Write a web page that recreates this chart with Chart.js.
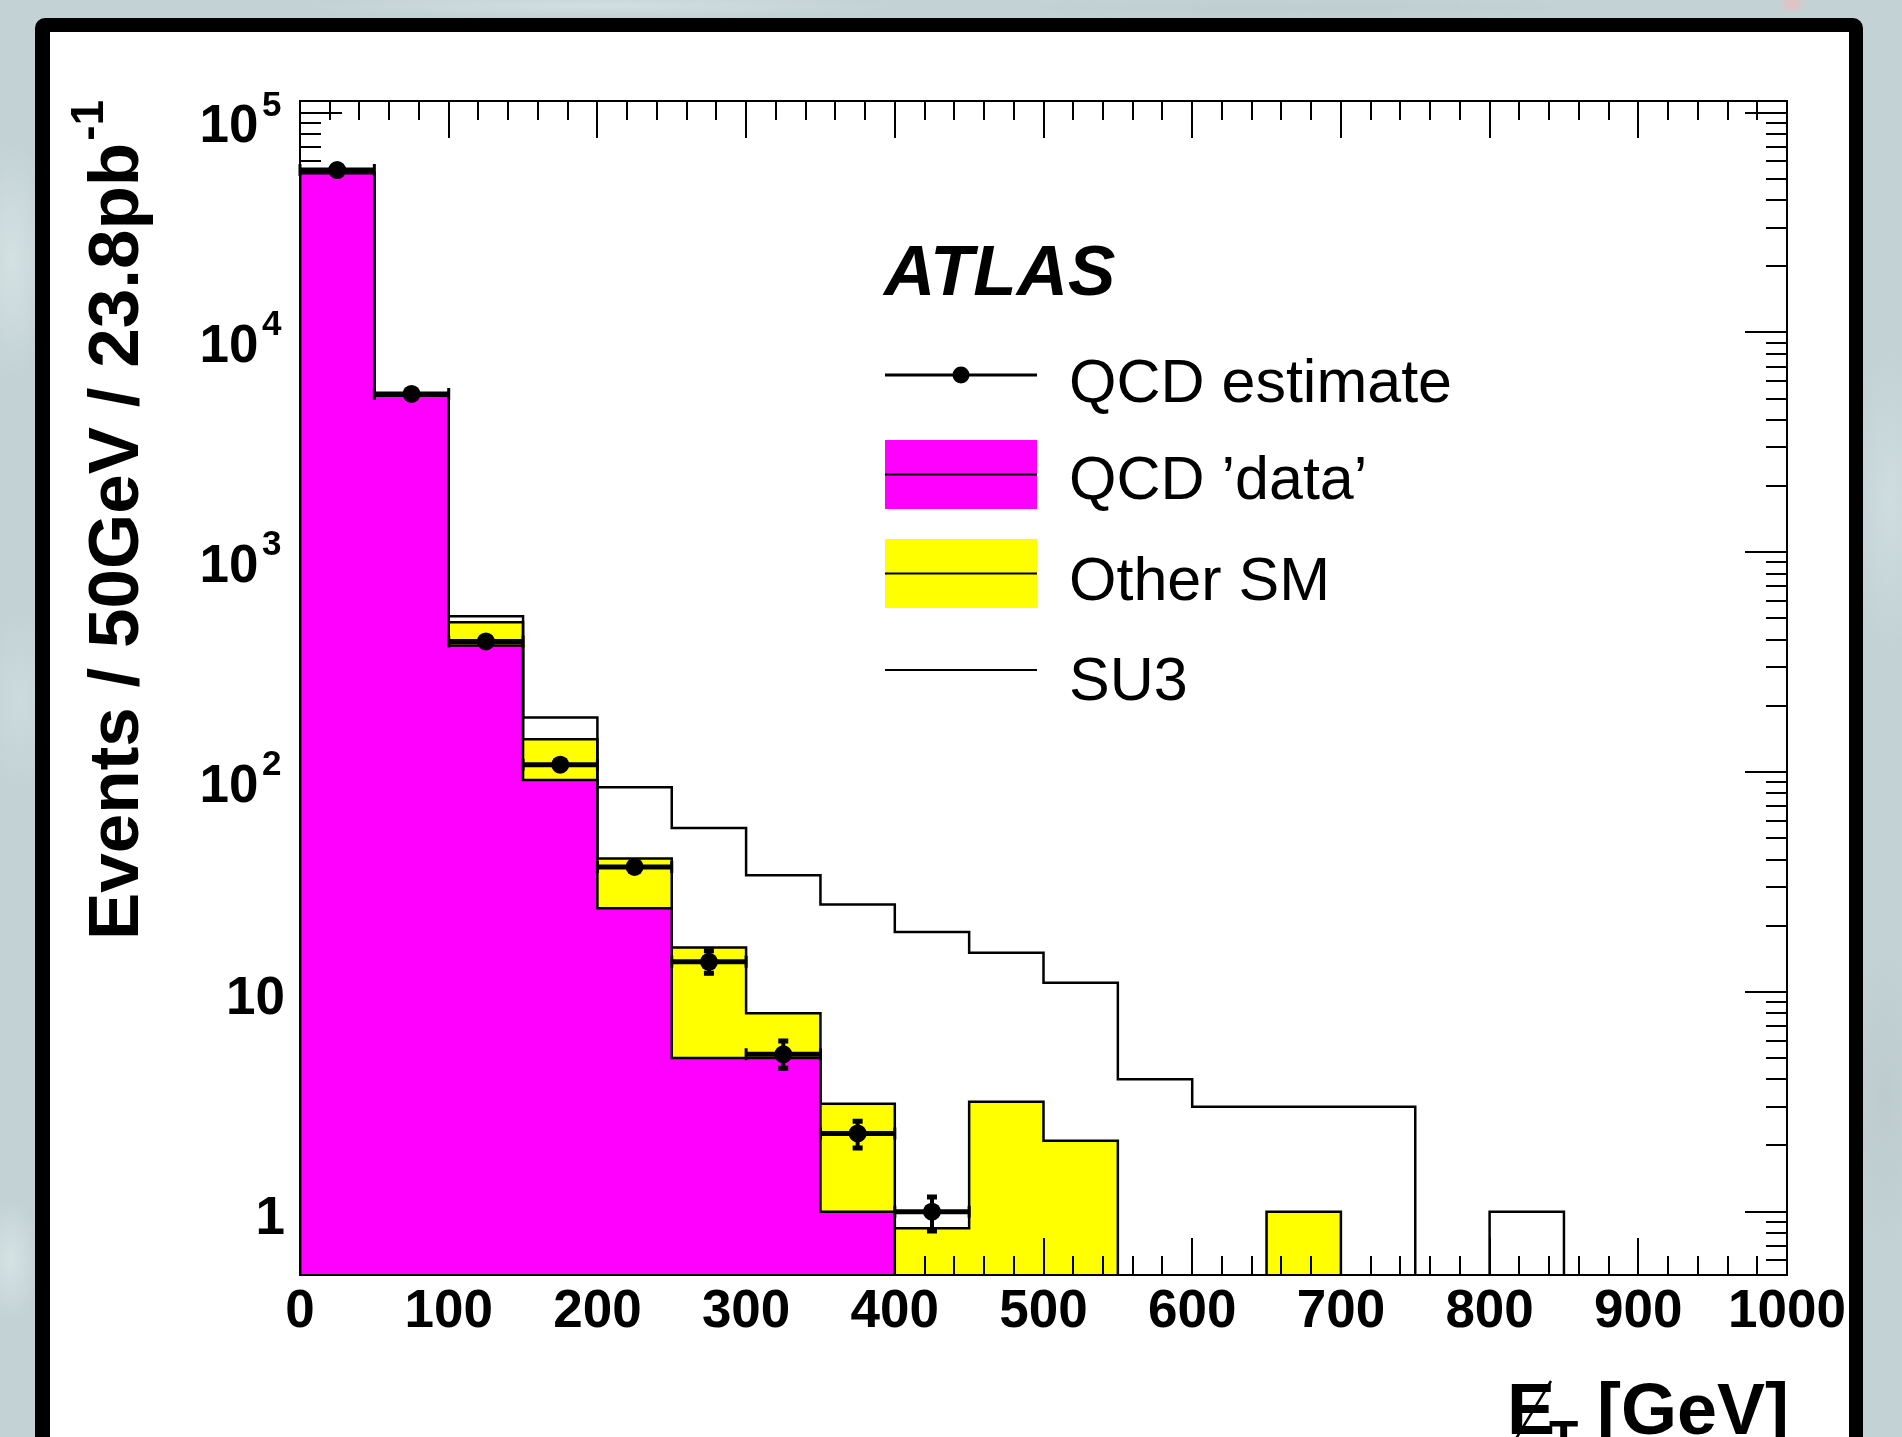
<!DOCTYPE html>
<html>
<head>
<meta charset="utf-8">
<script src="https://cdn.jsdelivr.net/npm/chart.js@4.4.1/dist/chart.umd.min.js"></script>
<style>
html,body{margin:0;padding:0;width:1902px;height:1437px;overflow:hidden;}
body{
  background-color:#c3d2d5;
  background-image:
    radial-gradient(ellipse 14px 10px at 1792px 4px, rgba(236,190,188,0.95), rgba(236,190,188,0) 100%),
    radial-gradient(ellipse 40px 120px at 12px 260px, rgba(214,227,228,0.9), rgba(214,227,228,0)),
    radial-gradient(ellipse 40px 90px at 20px 700px, rgba(205,220,222,0.9), rgba(205,220,222,0)),
    radial-gradient(ellipse 30px 60px at 10px 1260px, rgba(216,228,229,0.9), rgba(216,228,229,0)),
    radial-gradient(ellipse 40px 150px at 1890px 500px, rgba(208,222,225,0.9), rgba(208,222,225,0)),
    radial-gradient(ellipse 40px 150px at 1885px 1100px, rgba(188,202,206,0.9), rgba(188,202,206,0)),
    radial-gradient(ellipse 300px 12px at 600px 6px, rgba(212,224,226,0.9), rgba(212,224,226,0)),
    radial-gradient(ellipse 300px 12px at 1300px 8px, rgba(190,205,209,0.9), rgba(190,205,209,0));
}
#frame{position:absolute;left:35px;top:18px;width:1828px;height:1470px;box-sizing:border-box;
  border:14px solid #000;border-left-width:15px;border-radius:10px;background:#fff;}
#c{position:absolute;left:0;top:0;}
</style>
</head>
<body>
<div id="frame"></div>
<canvas id="c" width="1902" height="1437"></canvas>
<script>
// ---- data ----
const binEdges = [0,50,100,150,200,250,300,350,400,450,500,550,600,650,700,750,800,850,900,950,1000];
// QCD 'data' (magenta)
const qcdData = [53000, 5150, 377, 92, 24, 5.0, 5.0, 1.0, 0, 0, 0, 0, 0, 0, 0, 0, 0, 0, 0, 0];
// Other SM (yellow), stacked on top of QCD 'data'
const otherSM = [200, 60, 104, 49, 16.4, 10.9, 3.0, 2.1, 0.84, 3.16, 2.1, 0, 0, 1.0, 0, 0, 0, 0, 0, 0];
// SU3 signal, stacked on top of the SM stack (drawn as a line)
const su3 = [150, 40, 31, 36, 45, 39.7, 25.9, 21.9, 17.9, 11.9, 8.9, 4.0, 3.0, 2.0, 3.0, 0, 1.0, 0, 0, 0];
// QCD estimate points (one per bin, first 9 bins)
const qcdEstimate = [54800, 5250, 393, 108, 37, 13.7, 5.2, 2.27, 1.0];
const estErrLow  = [230, 70, 18, 9, 2.5, 1.8, 0.8, 0.36, 0.2];
const estErrHigh = [230, 70, 18, 9, 2.5, 2.0, 0.9, 0.36, 0.19];
// axis ticks
const xTickValues = [0,100,200,300,400,500,600,700,800,900,1000];
const xTickLabels = ['0','100','200','300','400','500','600','700','800','900','1000'];
const yTickValues = [1, 10, 100, 1000, 10000, 100000];
const yTickLabels = ['1', '10', '10', '10', '10', '10'];
const yTickExponents = ['', '', '2', '3', '4', '5'];
const yRange = [0.515, 113000];
const legendLabels = ['QCD estimate', 'QCD \u2019data\u2019', 'Other SM', 'SU3'];
const yTitle = 'Events / 50GeV / 23.8pb';
const yTitleSup = '-1';

// ---- build library inputs ----
const FLOOR = 1e-4; // stand-in for empty bins on the log axis (below the visible range)
function cumulative(...parts){ return parts[0].map((_, i) => parts.reduce((s, p) => s + p[i], 0)); }
function stepPoints(vals){
  const pts = [{x: binEdges[0], y: FLOOR}];
  vals.forEach((v, i) => pts.push({x: binEdges[i], y: v > 0 ? v : FLOOR}));
  const last = vals[vals.length - 1];
  pts.push({x: binEdges[vals.length], y: last > 0 ? last : FLOOR});
  return pts;
}
const stackSM = cumulative(qcdData, otherSM);
const stackSU3 = cumulative(qcdData, otherSM, su3);
const estPoints = qcdEstimate.map((v, i) => ({x: (binEdges[i] + binEdges[i+1]) / 2, y: v, lo: v - estErrLow[i], hi: v + estErrHigh[i], xl: binEdges[i], xh: binEdges[i+1]}));

const FONT = '"Liberation Sans", Arial, Helvetica, sans-serif';

function drawTicks(chart){
  const {ctx, chartArea: a, scales: {x, y}} = chart;
  ctx.save();
  ctx.strokeStyle = '#000';
  ctx.lineWidth = 2;
  ctx.beginPath();
  for (let v = x.min; v <= x.max + 1e-9; v += 20){
    const px = Math.round(x.getPixelForValue(v));
    const len = (v % 100 === 0) ? 37 : 19;
    ctx.moveTo(px, a.bottom); ctx.lineTo(px, a.bottom - len);
    ctx.moveTo(px, a.top); ctx.lineTo(px, a.top + len);
  }
  for (let e = -1; e <= 5; e++){
    for (let k = 1; k <= 9; k++){
      const v = k * Math.pow(10, e);
      if (v < y.min || v > y.max) continue;
      const py = Math.round(y.getPixelForValue(v));
      const len = k === 1 ? 42 : 21;
      ctx.moveTo(a.left, py); ctx.lineTo(a.left + len, py);
      ctx.moveTo(a.right, py); ctx.lineTo(a.right - len, py);
    }
  }
  ctx.stroke();
  ctx.restore();
}

const rootPlugin = {
  id: 'rootStyle',
  afterDatasetDraw(chart, args){
    if (args.index === 0) drawTicks(chart);
  },
  afterDatasetsDraw(chart){
    const {ctx, chartArea: a, scales: {x, y}} = chart;
    ctx.save();
    // frame
    ctx.strokeStyle = '#000'; ctx.lineWidth = 2;
    ctx.strokeRect(a.left, a.top, a.right - a.left, a.bottom - a.top);
    // error bars of the QCD estimate
    ctx.beginPath(); ctx.rect(a.left - 6, a.top, a.right - a.left + 12, a.bottom - a.top); ctx.clip();
    estPoints.forEach(p => {
      const px = x.getPixelForValue(p.x), py = y.getPixelForValue(p.y);
      const xl = x.getPixelForValue(p.xl), xh = x.getPixelForValue(p.xh);
      ctx.lineWidth = 5; ctx.lineCap = 'butt';
      ctx.beginPath(); ctx.moveTo(xl, py); ctx.lineTo(xh, py); ctx.stroke();
      ctx.lineWidth = 3;
      ctx.beginPath();
      ctx.moveTo(xl, py - 6); ctx.lineTo(xl, py + 6);
      ctx.moveTo(xh, py - 6); ctx.lineTo(xh, py + 6);
      ctx.stroke();
      const ylo = y.getPixelForValue(p.lo), yhi = y.getPixelForValue(p.hi);
      ctx.lineWidth = 4;
      ctx.beginPath(); ctx.moveTo(px, ylo); ctx.lineTo(px, yhi); ctx.stroke();
      if (ylo - py > 10){
        ctx.lineWidth = 5;
        ctx.beginPath();
        ctx.moveTo(px - 5, ylo - 2); ctx.lineTo(px + 5, ylo - 2);
        ctx.moveTo(px - 5, yhi + 2); ctx.lineTo(px + 5, yhi + 2);
        ctx.stroke();
      }
    });
    ctx.restore();
  },
  afterDraw(chart){
    const ctx = chart.ctx;
    const yScale = chart.scales.y;
    ctx.save();
    ctx.fillStyle = '#000'; ctx.strokeStyle = '#000';
    ctx.textBaseline = 'alphabetic'; ctx.textAlign = 'left';
    // exponents of the y tick labels
    ctx.font = 'bold 35px ' + FONT;
    yTickValues.forEach((v, i) => {
      if (!yTickExponents[i]) return;
      ctx.fillText(yTickExponents[i], 262, yScale.getPixelForValue(v) + 3);
    });
    // y-axis title (rotated)
    ctx.save();
    ctx.translate(138, 940); ctx.rotate(-Math.PI / 2);
    ctx.font = 'bold 71px ' + FONT;
    ctx.fillText(yTitle, 0, 0);
    const w = ctx.measureText(yTitle).width;
    ctx.font = 'bold 46px ' + FONT;
    ctx.fillText(yTitleSup, w + 2, -35);
    ctx.restore();
    // x-axis title: missing E_T [GeV]
    ctx.font = 'bold 72px ' + FONT;
    const xE = 1507, base = 1434;
    ctx.fillText('E', xE, base);
    ctx.lineWidth = 2.5;
    ctx.beginPath(); ctx.moveTo(1514, 1442); ctx.lineTo(1551, 1381); ctx.stroke();
    ctx.font = 'bold 48px ' + FONT;
    ctx.fillText('T', 1549, base + 20);
    ctx.font = 'bold 72px ' + FONT;
    ctx.textAlign = 'right';
    ctx.fillText('[GeV]', 1789, base);
    ctx.textAlign = 'left';
    // ATLAS label
    ctx.font = 'italic bold 71px ' + FONT;
    ctx.fillText('ATLAS', 884, 295);
    // legend
    const lx0 = 885, lx1 = 1037, tx = 1069;
    ctx.font = '61px ' + FONT;
    // QCD estimate
    ctx.lineWidth = 3;
    ctx.beginPath(); ctx.moveTo(lx0, 375); ctx.lineTo(lx1, 375); ctx.stroke();
    ctx.beginPath(); ctx.arc((lx0 + lx1) / 2, 375, 8.5, 0, Math.PI * 2); ctx.fill();
    ctx.fillText(legendLabels[0], tx, 402);
    // QCD 'data'
    ctx.fillStyle = '#ff00ff'; ctx.fillRect(lx0, 440, lx1 - lx0, 69);
    ctx.fillStyle = '#000'; ctx.lineWidth = 2;
    ctx.beginPath(); ctx.moveTo(lx0, 474.5); ctx.lineTo(lx1, 474.5); ctx.stroke();
    ctx.fillText(legendLabels[1], tx, 499);
    // Other SM
    ctx.fillStyle = '#ffff00'; ctx.fillRect(lx0, 539, lx1 - lx0, 69);
    ctx.fillStyle = '#000';
    ctx.beginPath(); ctx.moveTo(lx0, 573.5); ctx.lineTo(lx1, 573.5); ctx.stroke();
    ctx.fillText(legendLabels[2], tx, 600);
    // SU3
    ctx.beginPath(); ctx.moveTo(lx0, 670); ctx.lineTo(lx1, 670); ctx.stroke();
    ctx.fillText(legendLabels[3], tx, 700);
    ctx.restore();
  }
};

Chart.defaults.font.family = FONT;
Chart.defaults.color = '#000';

new Chart(document.getElementById('c'), {
  type: 'line',
  data: {
    datasets: [
      { label: 'Other SM', data: stepPoints(stackSM), stepped: true, fill: 'start',
        backgroundColor: '#ffff00', borderColor: '#000', borderWidth: 2.5, pointRadius: 0, order: 4 },
      { label: 'QCD data', data: stepPoints(qcdData), stepped: true, fill: 'start',
        backgroundColor: '#ff00ff', borderColor: '#000', borderWidth: 2.5, pointRadius: 0, order: 3 },
      { label: 'SU3', data: stepPoints(stackSU3), stepped: true, fill: false,
        borderColor: '#000', borderWidth: 2.5, pointRadius: 0, order: 2 },
      { type: 'scatter', label: 'QCD estimate', data: estPoints, showLine: false,
        pointRadius: 9, pointBackgroundColor: '#000', pointBorderColor: '#000', pointBorderWidth: 0, order: 1 }
    ]
  },
  options: {
    responsive: false,
    animation: false,
    devicePixelRatio: 1,
    layout: { padding: { left: 0, right: 115, top: 101, bottom: 0 } },
    plugins: { legend: { display: false }, tooltip: { enabled: false } },
    scales: {
      x: {
        type: 'linear', position: 'bottom', min: 0, max: 1000,
        afterBuildTicks: s => { s.ticks = xTickValues.map(v => ({value: v})); },
        afterFit: s => { s.height = 162; },
        ticks: { autoSkip: false, maxRotation: 0, padding: 6, color: '#000',
                 font: { size: 53, weight: 'bold' },
                 callback: (v, i) => xTickLabels[i] },
        grid: { display: false, drawTicks: false, tickLength: 0 },
        border: { display: true, color: '#000', width: 2 }
      },
      y: {
        type: 'logarithmic', position: 'left', min: yRange[0], max: yRange[1],
        afterBuildTicks: s => { s.ticks = yTickValues.map(v => ({value: v})); },
        afterFit: s => { s.width = 300; },
        ticks: { autoSkip: false, padding: 15, labelOffset: 8, color: '#000',
                 font: ctx => ({ size: 53, weight: 'bold',
                                 lineHeight: yTickExponents[ctx.index] ? '14px' : 1.2 }),
                 callback: (v, i) => yTickExponents[i] ? ['', yTickLabels[i] + '\u2002'] : yTickLabels[i] },
        grid: { display: false, drawTicks: false, tickLength: 0 },
        border: { display: true, color: '#000', width: 2 }
      }
    }
  },
  plugins: [rootPlugin]
});
</script>
</body>
</html>
